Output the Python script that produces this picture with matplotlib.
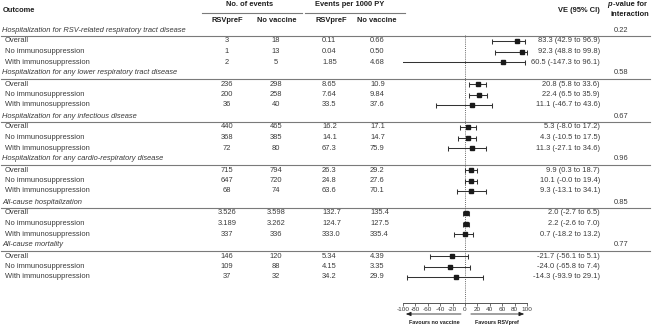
import matplotlib
matplotlib.use("Agg")
import matplotlib.pyplot as plt

plt.rcParams["font.family"] = ["Liberation Sans", "DejaVu Sans"]

groups = [
    "Hospitalization for RSV-related respiratory tract disease",
    "Hospitalization for any lower respiratory tract disease",
    "Hospitalization for any infectious disease",
    "Hospitalization for any cardio-respiratory disease",
    "All-cause hospitalization",
    "All-cause mortality",
]
subgroups = ["Overall", "No immunosuppression", "With immunosuppression"]
events_rsv = [["3", "1", "2"], ["236", "200", "36"], ["440", "368", "72"],
              ["715", "647", "68"], ["3.526", "3.189", "337"], ["146", "109", "37"]]
events_novac = [["18", "13", "5"], ["298", "258", "40"], ["465", "385", "80"],
                ["794", "720", "74"], ["3.598", "3.262", "336"], ["120", "88", "32"]]
rate_rsv = [["0.11", "0.04", "1.85"], ["8.65", "7.64", "33.5"], ["16.2", "14.1", "67.3"],
            ["26.3", "24.8", "63.6"], ["132.7", "124.7", "333.0"], ["5.34", "4.15", "34.2"]]
rate_novac = [["0.66", "0.50", "4.68"], ["10.9", "9.84", "37.6"], ["17.1", "14.7", "75.9"],
              ["29.2", "27.6", "70.1"], ["135.4", "127.5", "335.4"], ["4.39", "3.35", "29.9"]]
ve = [[83.3, 92.3, 60.5], [20.8, 22.4, 11.1], [5.3, 4.3, 11.3],
      [9.9, 10.1, 9.3], [2.0, 2.2, 0.7], [-21.7, -24.0, -14.3]]
ve_lo = [[42.9, 48.8, -147.3], [5.8, 6.5, -46.7], [-8.0, -10.5, -27.1],
         [0.3, -0.0, -13.1], [-2.7, -2.6, -18.2], [-56.1, -65.8, -93.9]]
ve_hi = [[96.9, 99.8, 96.1], [33.6, 35.9, 43.6], [17.2, 17.5, 34.6],
         [18.7, 19.4, 34.1], [6.5, 7.0, 13.2], [5.1, 7.4, 29.1]]
pvals = ["0.22", "0.58", "0.67", "0.96", "0.85", "0.77"]
ticks = [-100, -80, -60, -40, -20, 0, 20, 40, 60, 80, 100]

W, H = 660, 328
FS = 5.4
TXT = "#3a3a3a"
HDR = "#1e1e1e"
LINE = "#7a7a7a"

fig = plt.figure(figsize=(W / 100, H / 100), dpi=100)
bg = fig.add_axes([0, 0, 1, 1])
bg.set_xlim(0, W)
bg.set_ylim(H, 0)
bg.axis("off")

# header
hb = dict(fontsize=FS, fontweight="bold", color=HDR, va="center")
bg.text(3, 11, "Outcome", ha="left", **hb)
bg.text(250, 5, "No. of events", ha="center", **hb)
bg.text(350, 5, "Events per 1000 PY", ha="center", **hb)
bg.text(227, 20.5, "RSVpreF", ha="center", **hb)
bg.text(277, 20.5, "No vaccine", ha="center", **hb)
bg.text(331, 20.5, "RSVpreF", ha="center", **hb)
bg.text(377, 20.5, "No vaccine", ha="center", **hb)
bg.text(579, 11, "VE (95% CI)", ha="center", **hb)
bg.text(612, 5, "p", ha="right", fontstyle="italic", **hb)
bg.text(613, 5, "-value for", ha="left", **hb)
bg.text(630, 14.5, "interaction", ha="center", **hb)
bg.plot([202, 302], [12.5, 12.5], color=LINE, lw=0.8)
bg.plot([305, 405], [12.5, 12.5], color=LINE, lw=0.8)

# forest axes, y in the same pixel units as the table
fx = fig.add_axes([403 / W, 1 - 303 / H, 124 / W, (303 - 35) / H])
fx.set_xlim(-100, 100)
fx.set_ylim(303, 35)
fx.patch.set_alpha(0)
for s in ("left", "right", "top"):
    fx.spines[s].set_visible(False)
fx.spines["bottom"].set_color("#555555")
fx.spines["bottom"].set_linewidth(0.7)
fx.set_yticks([])
fx.set_xticks(ticks)
fx.set_xticklabels([str(t) for t in ticks])
fx.tick_params(axis="x", direction="out", length=2.2, width=0.6, pad=1,
               labelsize=4.6, colors="#555555", labelcolor=TXT)
fx.axvline(0, color="#666666", ls=(0, (1, 1.2)), lw=0.7)

tx = dict(fontsize=FS, color=TXT, va="center")
for g, name in enumerate(groups):
    y0 = 30 + 43 * g
    bg.text(2, y0, name, ha="left", fontstyle="italic", **tx)
    bg.text(621, y0, pvals[g], ha="center", **tx)
    bg.plot([1, 650], [y0 + 5.5, y0 + 5.5], color=LINE, lw=0.8)
    for i, sub in enumerate(subgroups):
        y = y0 + 11 + 10.5 * i
        bg.text(5, y, sub, ha="left", **tx)
        bg.text(227, y, events_rsv[g][i], ha="center", **tx)
        bg.text(276, y, events_novac[g][i], ha="center", **tx)
        bg.text(322, y, rate_rsv[g][i], ha="left", **tx)
        bg.text(370, y, rate_novac[g][i], ha="left", **tx)
        v, lo, hi = ve[g][i], ve_lo[g][i], ve_hi[g][i]
        bg.text(600, y, f"{v:.1f} ({lo:.1f} to {hi:.1f})", ha="right", **tx)
        fx.errorbar([v], [y], xerr=[[v - lo], [hi - v]], fmt="s", ms=2.8,
                    color="#1a1a1a", ecolor="#333333", elinewidth=0.75,
                    capsize=1.8, capthick=0.75)

# favours arrows below the axis
arr = dict(arrowstyle="-|>,head_length=0.3,head_width=0.12", color="#222222", lw=0.6)
fx.annotate("", xy=(-100, 314), xytext=(-2, 314), arrowprops=arr, annotation_clip=False)
fx.annotate("", xy=(100, 314), xytext=(5, 314), arrowprops=arr, annotation_clip=False)
fx.text(-50, 322, "Favours no vaccine", ha="center", va="center",
        fontsize=3.9, fontweight="bold", color=HDR, clip_on=False)
fx.text(52, 322, "Favours RSVpref", ha="center", va="center",
        fontsize=3.9, fontweight="bold", color=HDR, clip_on=False)

fig.savefig("out.png", dpi=100)
